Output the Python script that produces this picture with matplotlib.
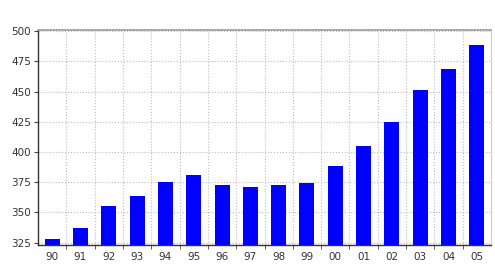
import matplotlib
matplotlib.use("Agg")
import matplotlib.pyplot as plt
import numpy as np

years = ["90", "91", "92", "93", "94", "95", "96", "97", "98", "99",
         "00", "01", "02", "03", "04", "05"]
values = [328, 337, 355.5, 363.5, 374.8, 381, 373, 371.4, 372.5, 374.5,
          388.6, 405, 425, 451, 468.5, 488.5]
yticks = [325, 350, 375, 400, 425, 450, 475, 500]

plt.rcParams['font.family'] = ['DejaVu Sans']
fig = plt.figure(figsize=(4.95, 2.78), dpi=100)
ax = fig.add_axes([38/495, 1 - 245/278, (491-38)/495, (245-30)/278])

x = np.arange(len(years))
ax.bar(x, values, width=0.53, color="#0000ff", zorder=3)

ax.set_xlim(-0.5, len(years) - 0.5)
ax.set_ylim(323, 501)
ax.set_yticks(yticks)
ax.set_yticklabels([str(t) for t in yticks], fontsize=7.5, color="#333333")
ax.set_xticks(x)
ax.set_xticklabels(years, fontsize=7.5, color="#333333")
ax.tick_params(axis='x', which='major', length=0, pad=5)
ax.set_xticks(x[:-1] + 0.5, minor=True)
ax.tick_params(axis='x', which='minor', length=3, color="#444444", direction='out')
ax.tick_params(axis='y', length=3, color="#444444", pad=2)

ax.grid(True, axis='y', which='major', linestyle=':', color="#bbbbbb", linewidth=0.8, zorder=0)
ax.grid(True, axis='x', which='minor', linestyle=':', color="#bbbbbb", linewidth=0.8, zorder=0)
ax.grid(False, axis='x', which='major')

ax.spines['left'].set_color("#333333")
ax.spines['bottom'].set_color("#333333")
ax.spines['left'].set_linewidth(1.0)
ax.spines['bottom'].set_linewidth(1.0)
ax.spines['top'].set_color("#999999")
ax.spines['right'].set_color("#cccccc")
ax.spines['top'].set_linewidth(1.2)

fig.savefig("out.png", dpi=100)
